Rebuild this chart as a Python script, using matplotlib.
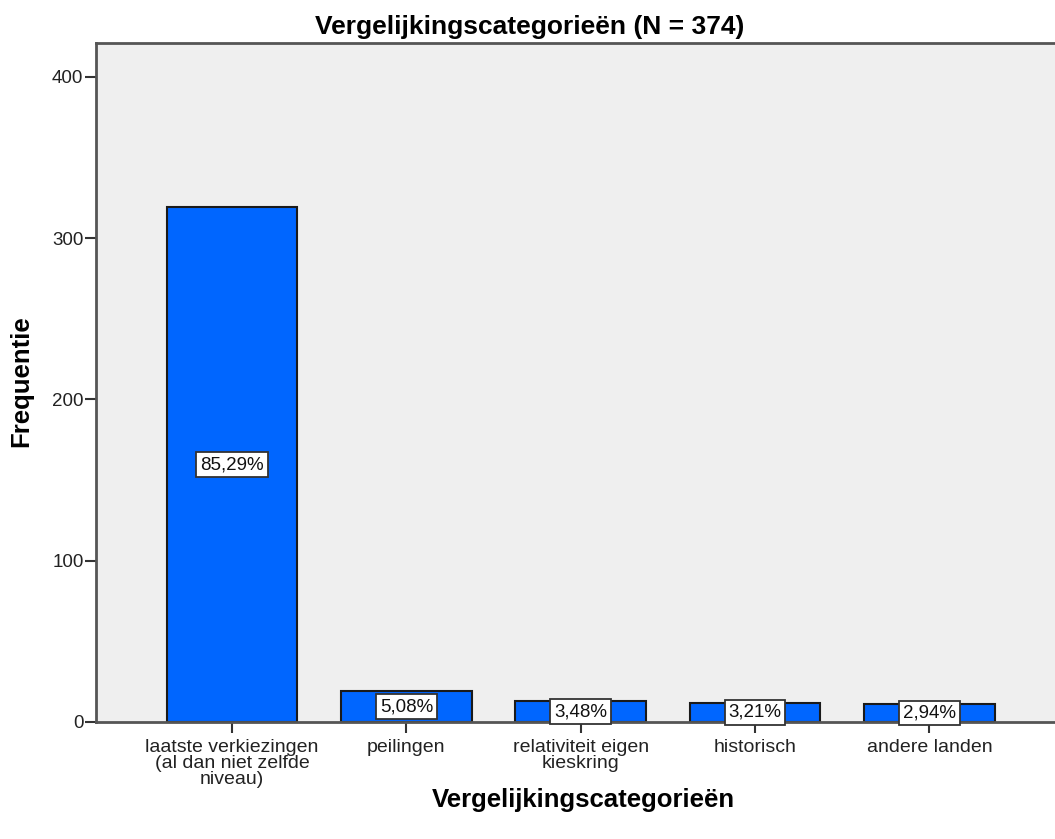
import matplotlib
matplotlib.use("Agg")
import matplotlib.pyplot as plt

categories = ["laatste verkiezingen\n(al dan niet zelfde\nniveau)", "peilingen",
              "relativiteit eigen\nkieskring", "historisch", "andere landen"]
counts = [319, 19, 13, 12, 11]
total = 374
yticks = [0, 100, 200, 300, 400]

plt.rcParams['font.family'] = ['Liberation Sans', 'DejaVu Sans']

fig = plt.figure(figsize=(10.55, 8.39), dpi=100)
ax = fig.add_axes([96/1055, 1-722/839, 1-96/1055, (722-42.5)/839])
ax.set_facecolor('#efefef')

x = list(range(len(categories)))
ax.bar(x, counts, width=0.75, color='#0066ff', edgecolor='#1a1a1a', linewidth=1.5, zorder=2)

for xi, c in zip(x, counts):
    pct = f"{100*c/total:.2f}%".replace('.', ',')
    ax.text(xi, c/2, pct, ha='center', va='center', fontsize=13.5, color='#111111', zorder=4,
            bbox=dict(boxstyle='square,pad=0.2', facecolor='white', edgecolor='#333333', linewidth=1.3))

ax.set_xlim(-0.78, 4.72)
ax.set_ylim(0, 421.2)
ax.set_yticks(yticks)
ax.set_xticks(x)
ax.set_xticklabels(categories, fontsize=14, color='#222222', linespacing=0.93)
ax.tick_params(axis='y', labelsize=13.5, length=8, width=1.5, color='#333333', pad=1, labelcolor='#222222')
ax.tick_params(axis='x', length=8, width=1.5, color='#333333', pad=4)

for s in ['left', 'top', 'bottom']:
    ax.spines[s].set_color('#555555')
    ax.spines[s].set_linewidth(2)
ax.spines['right'].set_visible(False)
ax.spines['bottom'].set_zorder(3)

fig.text(530/1055, 1-27/839, "Vergelijkingscategorieën (N = 374)", ha='center', va='center',
         fontsize=19, fontweight='bold')
fig.text(21/1055, 1-381/839, "Frequentie", ha='center', va='center', rotation=90,
         fontsize=18.5, fontweight='bold')
fig.text(583/1055, 1-800/839, "Vergelijkingscategorieën", ha='center', va='center',
         fontsize=18.5, fontweight='bold')

fig.savefig("out.png", dpi=100)
